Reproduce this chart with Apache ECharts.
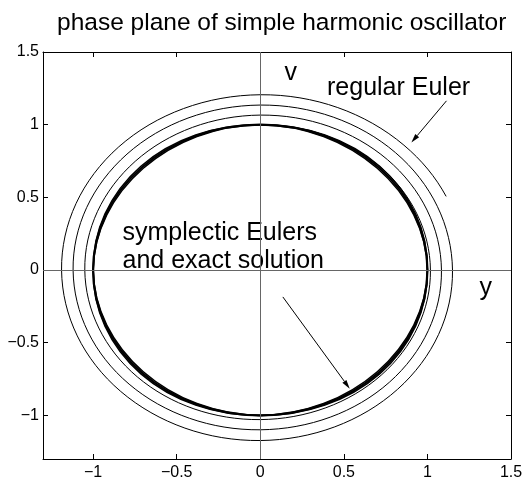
<!DOCTYPE html>
<html>
<head>
<meta charset="utf-8">
<title>phase plane of simple harmonic oscillator</title>
<script src="https://cdn.jsdelivr.net/npm/echarts@6/dist/echarts.min.js"></script>
<style>
  html, body { margin: 0; padding: 0; background: #fff; }
  #chart { width: 523px; height: 480px; }
</style>
</head>
<body>
<div id="chart"></div>
<script>
// axis range and tick marks (same on both axes)
const axisMin = -1.3;
const axisMax = 1.5;
const tickValues = [-1, -0.5, 0, 0.5, 1, 1.5];

// closed orbits, read in polar form every 45 degrees
const loopAngles = [0, 45, 90, 135, 180, 225, 270, 315];
const exactRadius = [1, 1, 1, 1, 1, 1, 1, 1];
const symplecticARadius = [1, 1.01, 1, 0.99, 1, 1.01, 1, 0.99];
const symplecticBRadius = [1, 0.99, 1, 1.01, 1, 0.99, 1, 1.01];

// regular Euler spiral: starts at (0, 1), runs clockwise, ends past the 4th top crossing
const eulerAngles = [90, 45, 0, -45, -90, -135, -180, -225, -270, -315, -360, -405, -450, -495,
  -540, -585, -630, -675, -720, -765, -810, -855, -900, -945, -990, -1035, -1055.5];
const eulerRadius = [1.000, 1.009, 1.018, 1.023, 1.029, 1.040, 1.050, 1.058, 1.066, 1.075, 1.084,
  1.092, 1.099, 1.110, 1.120, 1.128, 1.135, 1.143, 1.150, 1.161, 1.173, 1.181, 1.189, 1.198,
  1.206, 1.215, 1.222];

// annotation arrows, [fromY, fromV, toY, toV]
const arrows = [
  [1.114, 1.164, 0.904, 0.877],
  [0.135, -0.185, 0.535, -0.816]
];

const FONT = '"Liberation Sans", Arial, Helvetica, sans-serif';
const HANDLE = 0.3465; // bezier handle / chord for a 45 degree arc

const toXY = (angles, radii) => angles.map((a, i) => {
  const t = a * Math.PI / 180;
  return [radii[i] * Math.cos(t), radii[i] * Math.sin(t)];
});

const sub = (p, q) => [p[0] - q[0], p[1] - q[1]];
const norm = v => Math.hypot(v[0], v[1]);
const unit = v => { const l = norm(v); return [v[0] / l, v[1] / l]; };
// mirror a tangent across the chord direction u (circular arc symmetry)
const reflect = (t, u) => {
  const k = 2 * (t[0] * u[0] + t[1] * u[1]);
  return [k * u[0] - t[0], k * u[1] - t[1]];
};

// bezier through the points, built in data space then mapped by the axes
function bezierPath(pts, closed, api) {
  const n = pts.length;
  const tan = pts.map((p, i) => {
    const a = closed ? pts[(i - 1 + n) % n] : pts[i - 1];
    const b = closed ? pts[(i + 1) % n] : pts[i + 1];
    if (!a || !b) return null;
    const e0 = sub(p, a), e1 = sub(b, p);
    const d0 = norm(e0), d1 = norm(e1);
    // Bessel tangent, exact for three points on a circle
    return unit([e0[0] * d1 / d0 + e1[0] * d0 / d1, e0[1] * d1 / d0 + e1[1] * d0 / d1]);
  });
  if (!closed) {
    tan[0] = reflect(tan[1], unit(sub(pts[1], pts[0])));
    tan[n - 1] = reflect(tan[n - 2], unit(sub(pts[n - 1], pts[n - 2])));
  }
  const px = q => api.coord(q).join(',');
  let d = 'M' + px(pts[0]);
  const segs = closed ? n : n - 1;
  for (let i = 0; i < segs; i++) {
    const j = (i + 1) % n;
    const h = norm(sub(pts[j], pts[i])) * HANDLE;
    const c1 = [pts[i][0] + tan[i][0] * h, pts[i][1] + tan[i][1] * h];
    const c2 = [pts[j][0] - tan[j][0] * h, pts[j][1] - tan[j][1] * h];
    d += 'C' + px(c1) + ' ' + px(c2) + ' ' + px(pts[j]);
  }
  return closed ? d + 'Z' : d;
}

function orbitSeries(points, closed, width) {
  return {
    type: 'custom',
    coordinateSystem: 'cartesian2d',
    data: points,
    silent: true,
    renderItem(params, api) {
      if (params.dataIndex !== 0) return null;
      return {
        type: 'path',
        shape: { pathData: bezierPath(points, closed, api) },
        style: { fill: 'none', stroke: '#000', lineWidth: width }
      };
    }
  };
}

const fmt = v => String(v).replace('-', '\u2212');

function makeAxis(position, showLabel, margin) {
  return {
    type: 'value',
    position,
    min: axisMin,
    max: axisMax,
    axisLine: { show: true, onZero: false, lineStyle: { color: '#000', width: 1 } },
    axisTick: { show: true, inside: true, length: 5, customValues: tickValues, lineStyle: { color: '#000' } },
    axisLabel: {
      show: showLabel, customValues: tickValues, formatter: fmt, margin,
      color: '#000', fontSize: 16, fontFamily: FONT
    },
    splitLine: { show: false }
  };
}

const textEl = (text, x, y, size, align) => ({
  type: 'text', x, y, silent: true,
  style: {
    text, fill: '#000', fontSize: size, fontFamily: FONT,
    align, textAlign: align, verticalAlign: 'middle', textVerticalAlign: 'middle'
  }
});

const chart = echarts.init(document.getElementById('chart'), null, { renderer: 'canvas' });

chart.setOption({
  backgroundColor: '#fff',
  animation: false,
  grid: { left: 43, right: 12, top: 52, bottom: 21, containLabel: false, outerBoundsMode: 'none' },
  xAxis: [makeAxis('bottom', true, 6), makeAxis('top', false, 6)],
  yAxis: [makeAxis('left', true, 4), makeAxis('right', false, 4)],
  graphic: [
    textEl('phase plane of simple harmonic oscillator', 281.7, 23.5, 24.5, 'center'),
    textEl('v', 284.5, 73.3, 25, 'left'),
    textEl('y', 479.5, 288, 25, 'left'),
    textEl('regular Euler', 327, 88.6, 25, 'left'),
    textEl('symplectic Eulers', 122.5, 233, 25, 'left'),
    textEl('and exact solution', 122.5, 261.3, 25, 'left')
  ],
  series: [
    {
      // y = 0 and v = 0 lines
      type: 'line',
      data: [],
      silent: true,
      markLine: {
        silent: true,
        symbol: 'none',
        label: { show: false },
        lineStyle: { color: '#666', width: 1, type: 'solid' },
        data: [{ xAxis: 0 }, { yAxis: 0 }]
      }
    },
    orbitSeries(toXY(eulerAngles, eulerRadius), false, 1),
    orbitSeries(toXY(loopAngles, symplecticARadius), true, 1.5),
    orbitSeries(toXY(loopAngles, symplecticBRadius), true, 1.5),
    orbitSeries(toXY(loopAngles, exactRadius), true, 2.2),
    {
      type: 'custom',
      coordinateSystem: 'cartesian2d',
      data: arrows,
      encode: { x: [0, 2], y: [1, 3] },
      silent: true,
      renderItem(params, api) {
        const p0 = api.coord([api.value(0), api.value(1)]);
        const p1 = api.coord([api.value(2), api.value(3)]);
        const ang = Math.atan2(p1[1] - p0[1], p1[0] - p0[0]);
        const len = 9, half = 2.5;
        const bx = p1[0] - len * Math.cos(ang), by = p1[1] - len * Math.sin(ang);
        const nx = -Math.sin(ang) * half, ny = Math.cos(ang) * half;
        return {
          type: 'group',
          children: [
            { type: 'line', shape: { x1: p0[0], y1: p0[1], x2: bx, y2: by }, style: { stroke: '#000', lineWidth: 1 } },
            { type: 'polygon', shape: { points: [p1, [bx + nx, by + ny], [bx - nx, by - ny]] }, style: { fill: '#000' } }
          ]
        };
      }
    }
  ]
});

window.addEventListener('resize', () => chart.resize());
</script>
</body>
</html>
